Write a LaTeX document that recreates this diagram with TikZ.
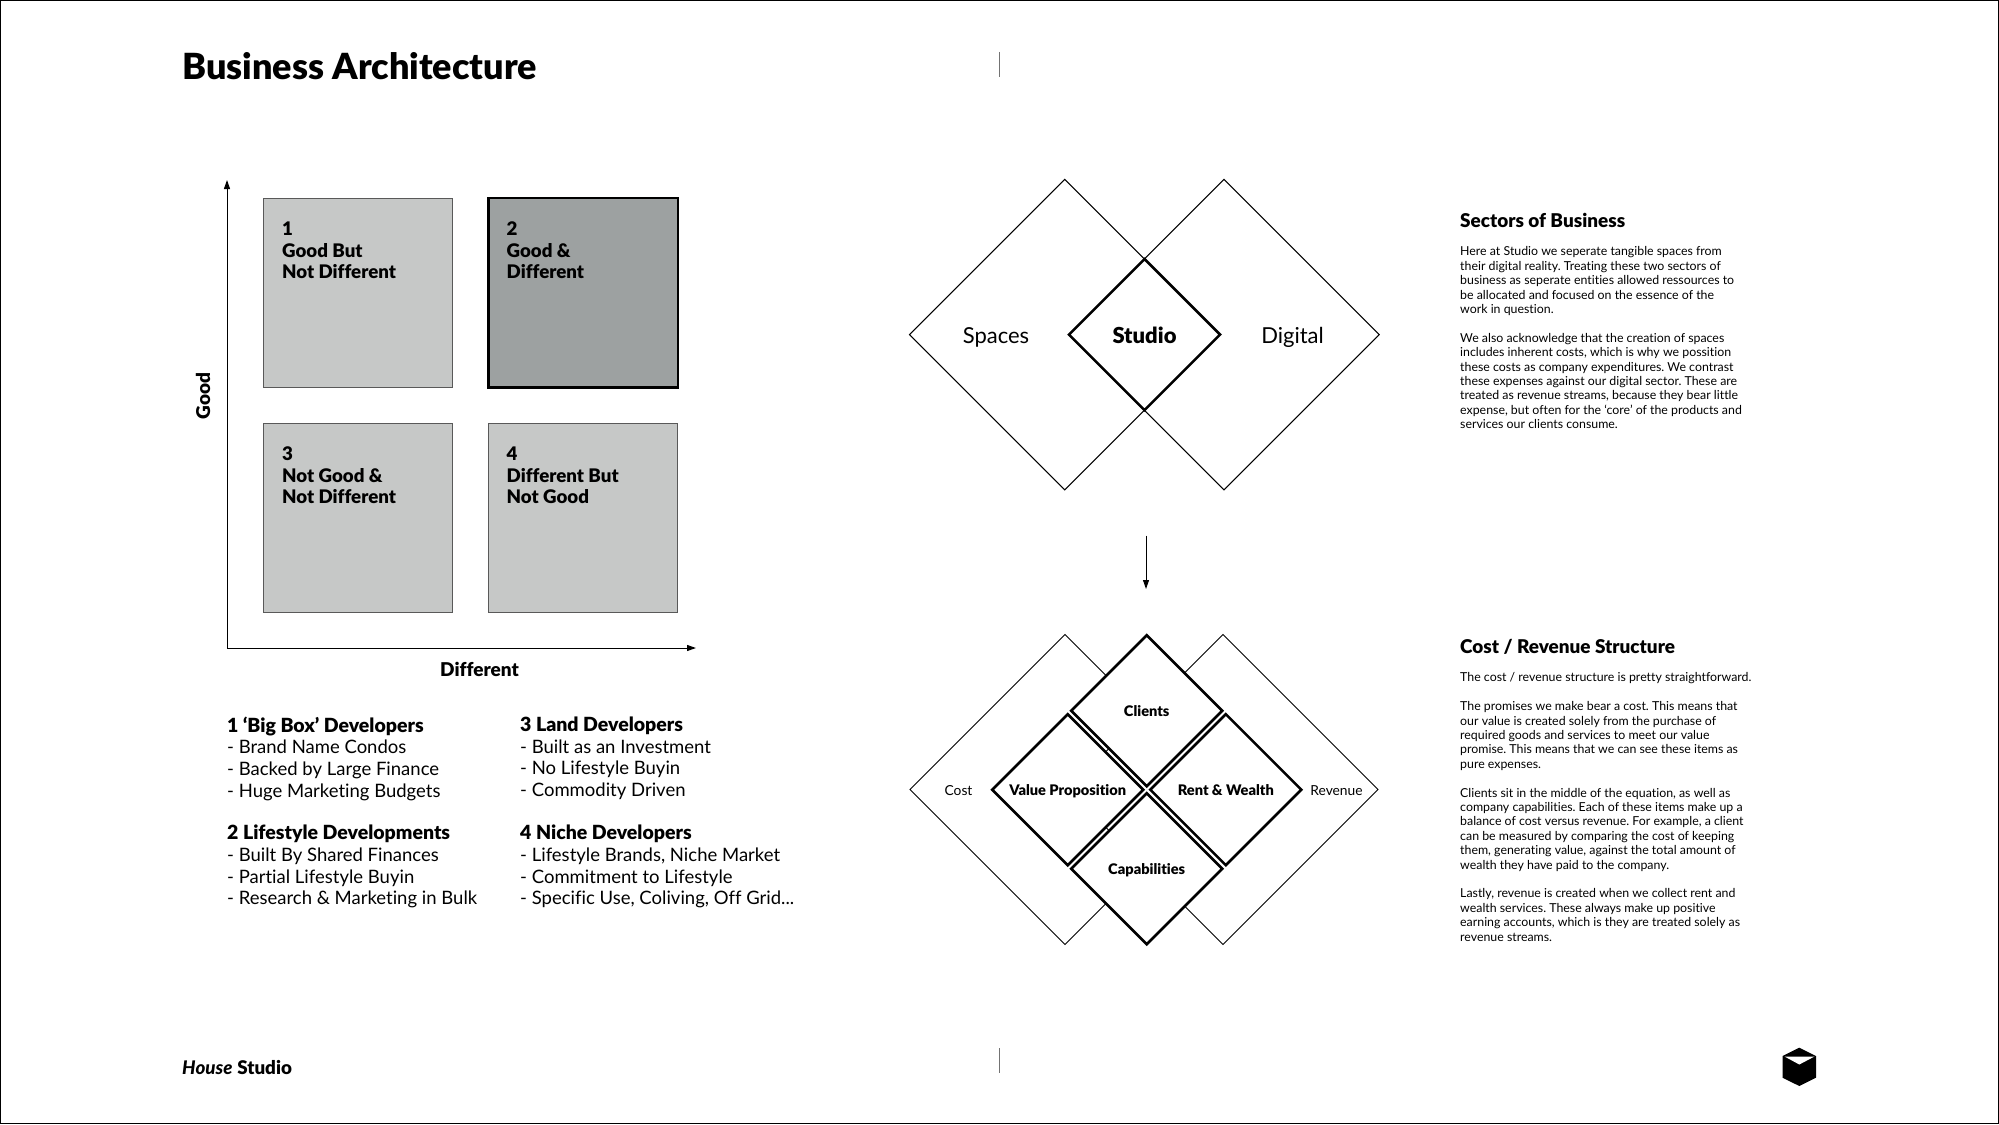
\documentclass[tikz,border=0pt]{standalone}
\usepackage{fontspec}
\setmainfont{Lato}[BoldFont={Lato Black},BoldItalicFont={Lato Black Italic},Ligatures=NoCommon]
\frenchspacing
\usetikzlibrary{shapes.geometric,arrows.meta}
\definecolor{lightsq}{HTML}{C6C8C7}
\definecolor{darksq}{HTML}{9DA1A1}
\newcommand{\listhead}[1]{{\fontsize{19.5}{21.7}\selectfont\bfseries #1}}
\tikzset{
  quad/.style={draw=black!65,line width=1pt,fill=lightsq,minimum width=189.5pt,minimum height=189.5pt,inner sep=0pt,outer sep=0pt},
  quadtext/.style={anchor=north west,align=left,inner sep=0pt,font=\fontsize{18.7}{21.7}\selectfont\bfseries},
  dia/.style={diamond,shape aspect=1,draw=black,inner sep=0pt,outer sep=0pt,fill=white},
  big/.style={dia,line width=1pt,minimum width=310.5pt,minimum height=310.5pt},
  core/.style={dia,line width=2.6pt,minimum width=151pt,minimum height=151pt,text height=12.5pt,text depth=0pt,font=\fontsize{14.6}{16}\selectfont\bfseries},
  listtext/.style={anchor=north west,align=left,inner sep=0pt,font=\fontsize{18.5}{21.7}\selectfont},
  bodytext/.style={anchor=north west,align=left,inner sep=0pt,font=\fontsize{12.35}{14.4}\selectfont},
  headtext/.style={anchor=west,inner sep=0pt,font=\fontsize{18.95}{22}\selectfont\bfseries},
  axis/.style={line width=1pt,-{Triangle[length=9pt,width=6pt]}},
  tick/.style={draw=black!55,line width=1pt},
}
\begin{document}
\begin{tikzpicture}[x=1pt,y=-1pt]
\useasboundingbox (0,0) rectangle (1999,1124);
\draw[line width=1.2pt] (0.6,0.6) rectangle (1998.4,1123.6);

\node[anchor=base west,inner sep=0pt,font=\fontsize{36}{40}\selectfont\bfseries] (title) at (182,79.5) {Business Architecture};
\node[anchor=base west,inner sep=0pt,font=\fontsize{18.8}{22}\selectfont] (foot) at (182,1074) {\textbf{\itshape House} \textbf{Studio}};

\coordinate (t1a) at (999.5,52); \coordinate (t1b) at (999.5,77);
\coordinate (t2a) at (999.5,1048); \coordinate (t2b) at (999.5,1073);
\draw[tick] (t1a) -- (t1b);
\draw[tick] (t2a) -- (t2b);

% quadrant
\coordinate (org) at (227,648);
\coordinate (ytop) at (227,180);
\coordinate (xend) at (696,648);
\draw[axis] (org) -- (ytop);
\draw[axis] (org) -- (xend);
\node[quad] (q1) at (357.8,292.9) {};
\node[quad,fill=darksq,draw=black,line width=2.5pt] (q2) at (583,292.9) {};
\node[quad] (q3) at (357.8,517.9) {};
\node[quad] (q4) at (583,517.9) {};
\node[quadtext] (q1t) at (282,221.5) {1\\Good But\\Not Different};
\node[quadtext] (q2t) at (506.5,221.5) {2\\Good \&\\Different};
\node[quadtext] (q3t) at (282,446.5) {3\\Not Good \&\\Not Different};
\node[quadtext] (q4t) at (506.5,446.5) {4\\Different But\\Not Good};
\node[inner sep=0pt,font=\fontsize{19}{22}\selectfont\bfseries] (xl) at (479.5,669) {Different};
\node[inner sep=0pt,rotate=90,font=\fontsize{19}{22}\selectfont\bfseries] (yl) at (203,396) {Good};

% lists
\node[listtext] (l1) at (227,716.5) {\listhead{1 ‘Big Box’ Developers}\\- Brand Name Condos\\- Backed by Large Finance\\- Huge Marketing Budgets};
\node[listtext] (l2) at (227,825) {\listhead{2 Lifestyle Developments}\\- Built By Shared Finances\\- Partial Lifestyle Buyin\\- Research \& Marketing in Bulk};
\node[listtext] (l3) at (520,716.5) {\listhead{3 Land Developers}\\- Built as an Investment\\- No Lifestyle Buyin\\- Commodity Driven};
\node[listtext] (l4) at (520,825) {\listhead{4 Niche Developers}\\- Lifestyle Brands, Niche Market\\- Commitment to Lifestyle\\- Specific Use, Coliving, Off Grid...};

% upper diamonds
\node[big] (spaces) at (1064.7,334.6) {};
\node[big] (digital) at (1224,334.6) {};
\node[dia,line width=2.6pt,minimum width=151pt,minimum height=151pt,text height=18pt,text depth=0pt,font=\fontsize{22}{24}\selectfont\bfseries] (studio) at (1144.5,334.6) {Studio};
\node[inner sep=0pt,font=\fontsize{22}{24}\selectfont] (spl) at (996,337) {Spaces};
\node[inner sep=0pt,font=\fontsize{22}{24}\selectfont] (dil) at (1292.5,337) {Digital};

% arrow
\coordinate (arra) at (1146,535.5);
\coordinate (arrb) at (1146,589);
\draw[axis] (arra) -- (arrb);

% lower diamonds
\node[big,minimum width=310pt,minimum height=310pt] (cost) at (1065,789.5) {};
\node[big,minimum width=310pt,minimum height=310pt] (rev) at (1223,789.5) {};
\node[core] (clients) at (1146.7,710.7) {Clients};
\node[core] (cap) at (1146.7,868.7) {Capabilities};
\node[core] (val) at (1067.7,789.7) {Value Proposition};
\node[core] (rent) at (1225.8,789.7) {Rent \& Wealth};
\node[inner sep=0pt,font=\fontsize{13.8}{16}\selectfont] (cl) at (958.5,791) {Cost};
\node[inner sep=0pt,font=\fontsize{13.8}{16}\selectfont] (rl) at (1336.5,791) {Revenue};

% right text
\node[headtext] (h1) at (1460,220) {Sectors of Business};
\node[bodytext] (b1) at (1460,246.5) {Here at Studio we seperate tangible spaces from\\their digital reality. Treating these two sectors of\\business as seperate entities allowed ressources to\\be allocated and focused on the essence of the\\work in question.\\[14.4pt]We also acknowledge that the creation of spaces\\includes inherent costs, which is why we possition\\these costs as company expenditures. We contrast\\these expenses against our digital sector. These are\\treated as revenue streams, because they bear little\\expense, but often for the ‘core’ of the products and\\services our clients consume.};
\node[headtext] (h2) at (1460,647) {Cost / Revenue Structure};
\node[bodytext] (b2) at (1460,672.5) {The cost / revenue structure is pretty straightforward.\\[14.4pt]The promises we make bear a cost. This means that\\our value is created solely from the purchase of\\required goods and services to meet our value\\promise. This means that we can see these items as\\pure expenses.\\[14.4pt]Clients sit in the middle of the equation, as well as\\company capabilities. Each of these items make up a\\balance of cost versus revenue. For example, a client\\can be measured by comparing the cost of keeping\\them, generating value, against the total amount of\\wealth they have paid to the company.\\[14.4pt]Lastly, revenue is created when we collect rent and\\wealth services. These always make up positive\\earning accounts, which is they are treated solely as\\revenue streams.};

% cube
\fill (1799.3,1047.7) -- (1816,1056) -- (1816,1077.7) -- (1799.3,1086) -- (1782.5,1077.7) -- (1782.5,1056) -- cycle;
\fill[white] (1784.5,1056.5) -- (1814.5,1056.5) -- (1799.3,1064.5) -- cycle;
\end{tikzpicture}
\end{document}
